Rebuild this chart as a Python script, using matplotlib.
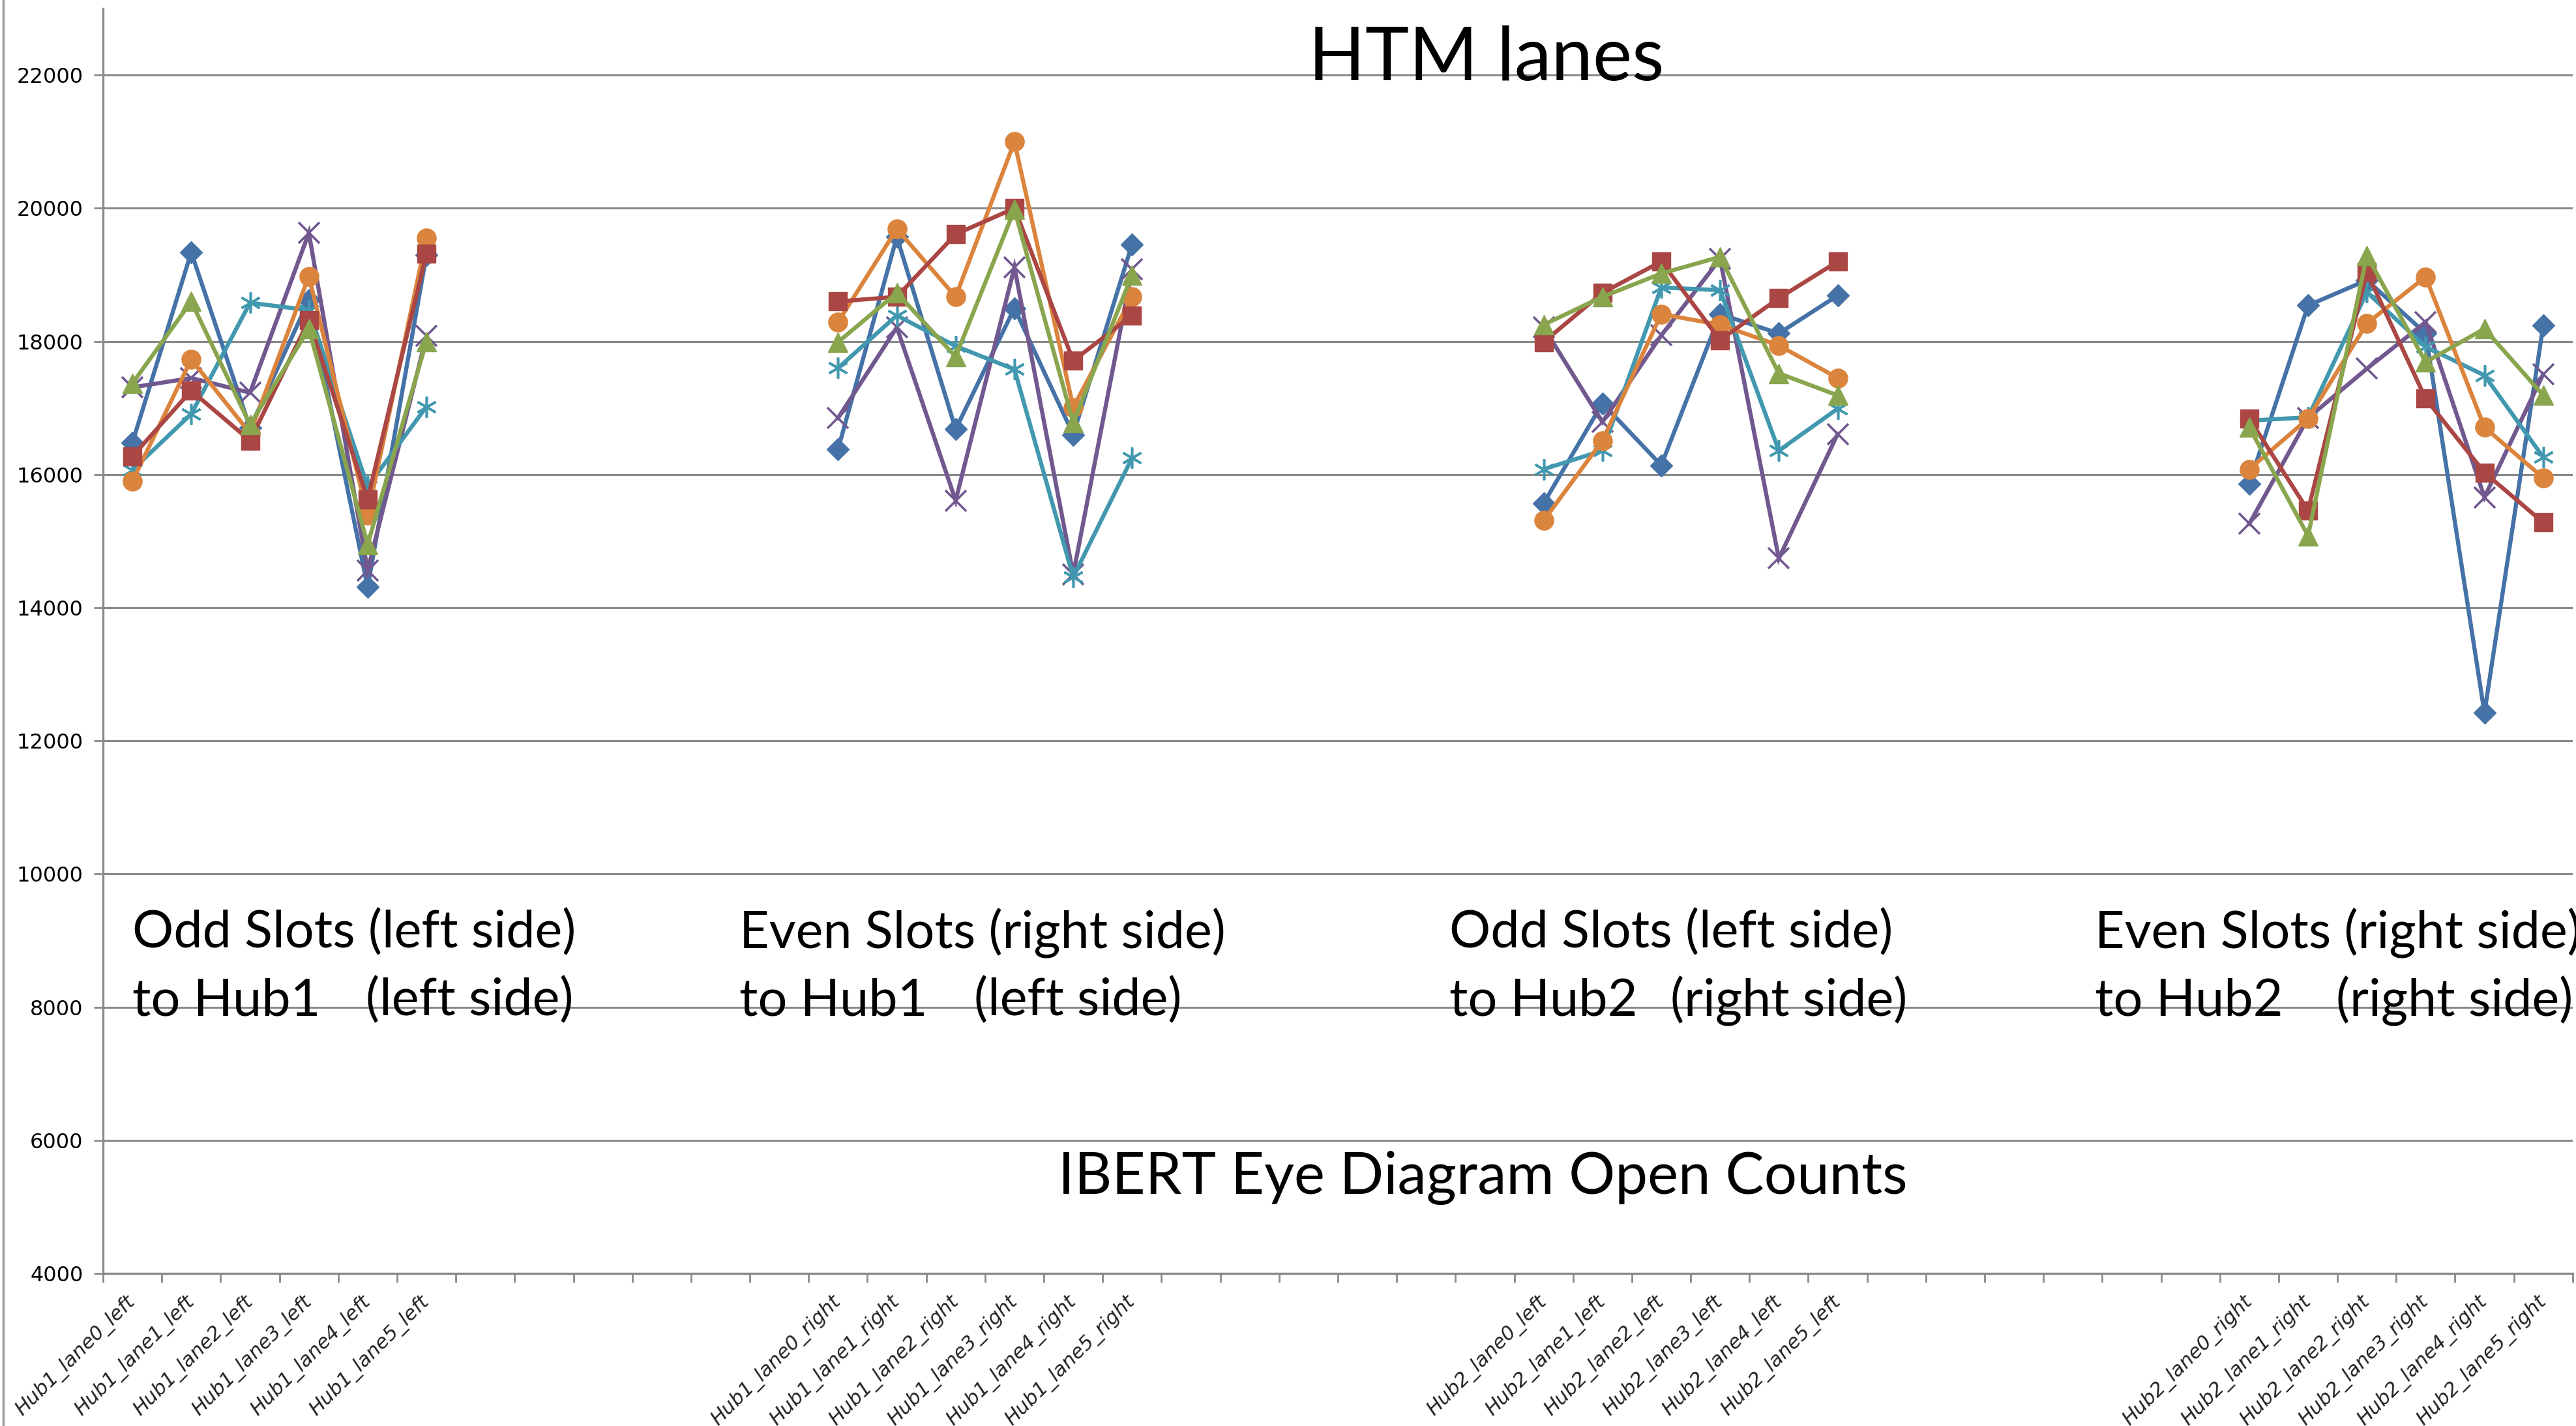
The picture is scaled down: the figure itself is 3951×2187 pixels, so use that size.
"""
HTM lanes: IBERT eye diagram open counts per lane, four slot/hub groups.
Excel-style line chart rebuilt in matplotlib.
"""
import numpy as np
import matplotlib
matplotlib.use("Agg")
import matplotlib.pyplot as plt
from matplotlib.lines import Line2D

# category labels, four groups of six lanes with empty slots between them
hub1_left = ["Hub1_lane0_left", "Hub1_lane1_left", "Hub1_lane2_left",
             "Hub1_lane3_left", "Hub1_lane4_left", "Hub1_lane5_left"]
hub1_right = ["Hub1_lane0_right", "Hub1_lane1_right", "Hub1_lane2_right",
              "Hub1_lane3_right", "Hub1_lane4_right", "Hub1_lane5_right"]
hub2_left = ["Hub2_lane0_left", "Hub2_lane1_left", "Hub2_lane2_left",
             "Hub2_lane3_left", "Hub2_lane4_left", "Hub2_lane5_left"]
hub2_right = ["Hub2_lane0_right", "Hub2_lane1_right", "Hub2_lane2_right",
              "Hub2_lane3_right", "Hub2_lane4_right", "Hub2_lane5_right"]
gap = [""] * 6
categories = hub1_left + gap + hub1_right + gap + hub2_left + gap + hub2_right
group_starts = [0, 12, 24, 36]

# open counts, 6 lanes x 4 groups per series
diamond_blue = [16480, 19340, 16700, 18620, 14310, 19300,
                16380, 19570, 16680, 18500, 16600, 19460,
                15570, 17070, 16140, 18410, 18120, 18690,
                15860, 18540, 18920, 18120, 12420, 18240]
square_red = [16275, 17260, 16510, 18320, 15630, 19320,
              18600, 18670, 19610, 20000, 17710, 18390,
              17990, 18730, 19200, 18020, 18650, 19200,
              16840, 15460, 19040, 17140, 16030, 15280]
triangle_green = [17370, 18600, 16750, 18190, 14950, 18000,
                  17990, 18730, 17770, 19980, 16780, 19000,
                  18250, 18670, 19020, 19270, 17520, 17190,
                  16710, 15080, 19290, 17690, 18190, 17190]
cross_purple = [17310, 17450, 17230, 19630, 14560, 18080,
                16850, 18210, 15610, 19110, 14500, 19080,
                18210, 16790, 18090, 19240, 14740, 16610,
                15260, 16850, 17590, 18290, 15660, 17510]
star_cyan = [16070, 16910, 18580, 18470, 15820, 17020,
             17600, 18390, 17930, 17580, 14460, 16250,
             16080, 16360, 18810, 18770, 16360, 16990,
             16810, 16860, 18740, 17920, 17490, 16260]
circle_orange = [15900, 17730, 16620, 18980, 15390, 19550,
                 18290, 19690, 18670, 21000, 17010, 18670,
                 15310, 16510, 18410, 18250, 17940, 17450,
                 16080, 16840, 18270, 18970, 16710, 15950]

# (values, colour, marker, markersize, zorder)
series = [
    (diamond_blue, "#4572A7", "D", 17, 3),
    (cross_purple, "#71588F", "x", 23, 4),
    (star_cyan, "#4198AF", (6, 2, 0), 23, 5),
    (circle_orange, "#DB843D", "o", 21, 6),
    (square_red, "#AA4643", "s", 20, 7),
    (triangle_green, "#89A54E", "^", 22, 8),
]

fig = plt.figure(figsize=(39.51, 21.87), dpi=100)
ax = fig.add_axes([0.040, 0.107, 0.9587, 0.887])

grid_col = "#8a8a8a"
x_all = np.arange(len(categories))

for values, col, mk, ms, z in series:
    for gi, start in enumerate(group_starts):
        xs = x_all[start:start + 6]
        ys = values[gi * 6:(gi + 1) * 6]
        thin = mk in ("x",) or isinstance(mk, tuple)
        ax.plot(xs, ys, color=col, lw=4.6, marker=mk, ms=ms,
                mfc=col, mec=col, mew=2.6 if thin else 1,
                zorder=z, solid_joinstyle="miter")

ax.set_xlim(-0.5, len(categories) - 0.5)
ax.set_ylim(4000, 23000)
ax.set_yticks(np.arange(4000, 22001, 2000))
ax.yaxis.grid(True, color=grid_col, lw=2.2)
ax.set_axisbelow(True)

# tick marks sit between categories, labels at the centres
ax.set_xticks(np.arange(-0.5, len(categories), 1))
ax.set_xticklabels([])
ax.set_xticks(x_all, minor=True)
ax.set_xticklabels(categories, minor=True, rotation=45, ha="right",
                   va="center", rotation_mode="anchor", fontsize=22,
                   style="italic", color="#222222")
ax.tick_params(axis="x", which="major", length=10, width=2, color=grid_col)
ax.tick_params(axis="x", which="minor", length=0, pad=28)
ax.tick_params(axis="y", length=10, width=2, color=grid_col, pad=12,
               labelsize=23)

for side in ("top", "right"):
    ax.spines[side].set_visible(False)
for side in ("left", "bottom"):
    ax.spines[side].set_color(grid_col)
    ax.spines[side].set_linewidth(2.4)

# chart area border on the far left
fig.add_artist(Line2D([0.0012, 0.0012], [0, 1], color="#9a9a9a", lw=2.5,
                      transform=fig.transFigure))

font = "Lato"
W, H = 3951.0, 2187.0
fig.text(2280 / W, 1 - 91 / H, "HTM lanes", family=font, fontsize=82,
         ha="center", va="center")
fig.text(2274 / W, 1 - 1807 / H, "IBERT Eye Diagram Open Counts",
         family=font, fontsize=64, ha="center", va="center")

# group captions: (left x, first line, hub part, side part, side x)
captions = [
    (203, "Odd Slots (left side)", "to Hub1", "(left side)", 561),
    (1134, "Even Slots (right side)", "to Hub1", "(left side)", 1494),
    (2223, "Odd Slots (left side)", "to Hub2", "(right side)", 2562),
    (3213, "Even Slots (right side)", "to Hub2", "(right side)", 3583),
]
for x0, line1, hub, side, xs in captions:
    fig.text(x0 / W, 1 - 1431 / H, line1, family=font, fontsize=57,
             ha="left", va="center")
    fig.text(x0 / W, 1 - 1535 / H, hub, family=font, fontsize=57,
             ha="left", va="center")
    fig.text(xs / W, 1 - 1535 / H, side, family=font, fontsize=57,
             ha="left", va="center")

fig.savefig("out.png", dpi=100, facecolor="white")
